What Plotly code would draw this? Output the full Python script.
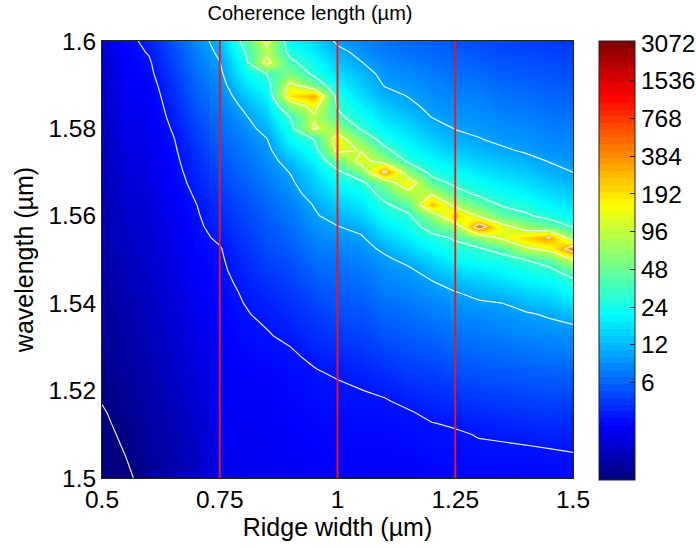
import numpy as np
import plotly.graph_objects as go

ridge_width = [0.5, 0.55, 0.6, 0.65, 0.7, 0.75, 0.8, 0.85, 0.9, 0.95, 1.0, 1.05, 1.1, 1.15, 1.2, 1.25, 1.3, 1.35, 1.4, 1.45, 1.5]
wavelength_top_down = [round(1.6 - 0.0025 * i, 4) for i in range(41)]

# log2 of coherence length; one list per ridge width, from 1.6 um down to 1.5 um
c050 = [.9,.9,.9,.85,.85,.8,.8,.75,.75,.7, .65,.65,.6,.6,.55,.5,.5,.5,.45,.45, .4,.4,.35,.35,.3,.28,.25,.22,.2,.15, .12,.1,.07,.02,-.05,-.1,-.15,-.2,-.28,-.34,-.4]
c055 = [1.5,1.46,1.42,1.38,1.34,1.3,1.26,1.22,1.18,1.14, 1.1,1.06,1.02,.98,.94,.9,.86,.82,.78,.74, .7,.66,.62,.58,.54,.5,.47,.44,.41,.38, .35,.31,.27,.23,.19,.15,.1,.05,0,-.05,-.1]
c060 = [1.8,1.7,1.6,1.55,1.47,1.4,1.36,1.32,1.28,1.24, 1.2,1.16,1.12,1.08,1.04,1.0,.97,.94,.91,.88, .85,.82,.79,.76,.73,.7,.67,.64,.61,.58, .55,.52,.49,.46,.43,.4,.37,.34,.3,.25,.2]
c065 = [2.4,2.3,2.2,2.1,2.0,1.93,1.85,1.78,1.7,1.62, 1.58,1.54,1.5,1.46,1.4,1.35,1.31,1.27,1.23,1.19, 1.15,1.11,1.07,1.03,.99,.95,.92,.89,.86,.83, .8,.76,.72,.68,.64,.6,.57,.54,.51,.48,.45]
c070 = [3.0,2.9,2.8,2.7,2.6,2.5,2.4,2.3,2.2,2.1, 2.0,1.93,1.86,1.79,1.72,1.65,1.61,1.57,1.53,1.49, 1.45,1.41,1.37,1.33,1.29,1.25,1.21,1.17,1.13,1.09, 1.05,1.01,.97,.93,.89,.85,.82,.79,.76,.73,.7]
c075 = [3.6,3.45,3.3,3.18,3.06,2.95,2.86,2.77,2.68,2.59, 2.5,2.4,2.3,2.2,2.1,2.0,1.92,1.84,1.74,1.63, 1.6,1.57,1.54,1.51,1.48,1.45,1.43,1.41,1.39,1.37, 1.35,1.34,1.33,1.32,1.31,1.3,1.28,1.26,1.24,1.22,1.2]
c080 = [5.2,4.85,4.5,4.25,3.95,3.65,3.4,3.2,3.05,2.92, 2.8,2.7,2.6,2.5,2.4,2.3,2.22,2.14,2.06,1.98, 1.9,1.84,1.76,1.7,1.66,1.62,1.58,1.55,1.52,1.48, 1.45,1.43,1.41,1.39,1.37,1.35,1.34,1.33,1.32,1.31,1.3]
c085 = [6.9,6.4,7.0,5.0,4.6,4.3,4.0,3.8,3.55,3.3, 3.15,3.04,2.93,2.82,2.71,2.6,2.52,2.44,2.36,2.28, 2.2,2.1,2.0,1.9,1.82,1.75,1.68,1.63,1.58,1.54, 1.5,1.47,1.44,1.41,1.38,1.35,1.34,1.33,1.32,1.31,1.3]
c090 = [4.3,4.7,5.2,5.8,6.9,7.5,5.9,5.0,4.7,4.4, 4.0,3.6,3.35,3.2,3.05,2.9,2.79,2.68,2.57,2.46, 2.35,2.26,2.17,2.08,1.99,1.9,1.82,1.74,1.66,1.6, 1.55,1.53,1.51,1.49,1.47,1.45,1.43,1.41,1.39,1.37,1.35]
c095 = [3.9,4.2,4.5,4.8,5.6,8.2,7.0,6.5,6.8,5.0, 4.6,4.3,4.0,3.8,3.6,3.35,3.25,3.11,2.97,2.83, 2.7,2.58,2.46,2.34,2.22,2.1,2.02,1.94,1.86,1.72, 1.65,1.62,1.59,1.56,1.53,1.5,1.48,1.46,1.44,1.42,1.4]
c100 = [3.2,3.5,3.75,4.0,4.3,4.6,4.9,5.2,6.0,7.2, 6.9,5.6,4.8,4.4,4.1,3.8,3.55,3.3,3.15,2.97, 2.8,2.7,2.6,2.5,2.4,2.3,2.19,2.08,1.97,1.86, 1.75,1.66,1.64,1.62,1.58,1.55,1.53,1.51,1.49,1.47,1.45]
c105 = [2.95,3.15,3.35,3.6,3.8,4.0,4.3,4.55,4.9,5.7, 6.6,7.0,5.8,4.75,4.4,4.1,3.8,3.5,3.25,3.1, 2.95,2.84,2.73,2.62,2.51,2.4,2.29,2.18,2.07,1.96, 1.85,1.75,1.65,1.62,1.58,1.55,1.53,1.51,1.49,1.47,1.45]
c110 = [2.75,2.88,3.02,3.15,3.28,3.5,3.75,4.0,4.25,4.6, 5.2,6.1,8.6,5.9,5.3,4.85,4.5,4.15,3.8,3.45, 3.2,3.08,2.96,2.84,2.72,2.6,2.48,2.36,2.24,2.12, 2.0,1.87,1.74,1.62,1.6,1.55,1.53,1.51,1.49,1.47,1.45]
c115 = [2.6,2.74,2.88,3.02,3.16,3.3,3.45,3.7,3.95,4.2, 4.45,4.85,6.0,7.4,6.3,5.4,4.85,4.5,4.2,3.85, 3.5,3.2,3.08,2.96,2.84,2.7,2.59,2.48,2.37,2.26, 2.15,2.02,1.89,1.76,1.62,1.58,1.55,1.53,1.5,1.47,1.45]
c120 = [2.5,2.62,2.74,2.86,2.98,3.1,3.2,3.32,3.55,3.8, 4.05,4.35,4.7,5.4,6.6,8.0,6.0,5.4,4.7,4.3, 3.9,3.6,3.3,3.15,3.0,2.85,2.72,2.59,2.46,2.33, 2.2,2.09,1.98,1.87,1.76,1.65,1.62,1.59,1.56,1.53,1.5]
c125 = [2.4,2.51,2.62,2.73,2.84,2.95,3.06,3.17,3.3,3.5, 3.75,4.05,4.4,4.8,5.3,6.3,7.9,5.9,5.1,4.7, 4.35,4.0,3.65,3.3,3.15,3.0,2.87,2.74,2.61,2.48, 2.35,2.22,2.09,1.96,1.83,1.7,1.62,1.59,1.56,1.53,1.5]
c130 = [2.3,2.42,2.54,2.66,2.78,2.9,3.0,3.1,3.2,3.35, 3.55,3.8,4.1,4.45,4.85,5.5,6.5,9.0,5.9,4.9, 4.55,4.15,3.8,3.5,3.25,3.05,2.93,2.81,2.69,2.57, 2.45,2.32,2.19,2.06,1.93,1.8,1.68,1.63,1.58,1.54,1.5]
c135 = [2.2,2.31,2.42,2.53,2.64,2.75,2.86,2.97,3.08,3.2, 3.4,3.65,3.9,4.2,4.5,4.9,5.5,7.0,6.9,5.3, 4.7,4.35,4.0,3.65,3.32,3.15,3.02,2.89,2.76,2.63, 2.5,2.37,2.24,2.11,1.98,1.85,1.75,1.62,1.58,1.54,1.5]
c140 = [2.15,2.26,2.37,2.48,2.59,2.7,2.81,2.92,3.03,3.14, 3.25,3.5,3.75,4.0,4.3,4.7,5.1,6.1,7.7,6.5, 5.0,4.6,4.25,3.9,3.6,3.25,3.11,2.97,2.83,2.69, 2.55,2.42,2.29,2.16,2.03,1.9,1.8,1.66,1.61,1.55,1.5]
c145 = [2.1,2.2,2.3,2.4,2.5,2.6,2.7,2.8,2.9,3.0, 3.1,3.3,3.5,3.75,4.0,4.3,4.7,5.6,8.4,7.0, 5.4,4.8,4.4,4.05,3.7,3.4,3.2,3.05,2.9,2.75, 2.6,2.47,2.34,2.21,2.08,1.95,1.82,1.68,1.62,1.56,1.5]
c150 = [2.05,2.15,2.25,2.35,2.45,2.55,2.65,2.75,2.85,2.95, 3.05,3.2,3.32,3.55,3.8,4.05,4.4,4.95,5.9,9.0, 6.7,5.5,4.8,4.45,4.1,3.7,3.3,3.1,2.95,2.75, 2.6,2.45,2.3,2.15,2.0,1.9,1.8,1.72,1.63,1.6,1.55]

columns = [c050, c055, c060, c065, c070, c075, c080, c085, c090, c095, c100, c105, c110, c115, c120, c125, c130, c135, c140, c145, c150]

colorbar_labels = ["6", "12", "24", "48", "96", "192", "384", "768", "1536", "3072"]
marked_widths = [0.75, 1.0, 1.25]

z_top_down = np.array(columns).T
z = z_top_down[::-1]
wavelength = wavelength_top_down[::-1]

Z_MIN, Z_MAX = 0.0, 11.64
LEVEL_STEP = 1.661


def jet_rgb(f):
    r = min(4 * f - 1.5, -4 * f + 4.5)
    g = min(4 * f - 0.5, -4 * f + 3.5)
    b = min(4 * f + 0.5, -4 * f + 2.5)
    return tuple(int(round(255 * max(0, min(1, v)))) for v in (r, g, b))


smooth_scale = [[i / 64, "rgb(%d,%d,%d)" % jet_rgb(i / 64)] for i in range(65)]
N = 64
stepped_scale = []
for i in range(N):
    rgb = "rgb(%d,%d,%d)" % jet_rgb((i + 0.5) / N)
    stepped_scale.append([i / N, rgb])
    stepped_scale.append([(i + 1) / N, rgb])

tickvals = [float(np.log2(int(t))) for t in colorbar_labels]
FONT = "Liberation Sans"

fig = go.Figure()
fig.add_trace(go.Heatmap(
    x=ridge_width, y=wavelength, z=z, zmin=Z_MIN, zmax=Z_MAX, zsmooth="best",
    colorscale=smooth_scale, hoverinfo="skip", showscale=False,
))
fig.add_trace(go.Contour(
    x=ridge_width, y=wavelength, z=z, showscale=False, hoverinfo="skip",
    contours=dict(coloring="none", start=0, end=11, size=LEVEL_STEP),
    line=dict(color="rgba(255,255,255,0.9)", width=1.2, smoothing=0),
))
for w in marked_widths:
    fig.add_trace(go.Scatter(x=[w, w], y=[1.5, 1.6], mode="lines", hoverinfo="skip",
                             line=dict(color="#f41414", width=1.8), showlegend=False))
fig.add_trace(go.Scatter(
    x=[None], y=[None], mode="markers", hoverinfo="skip", showlegend=False,
    marker=dict(color=[Z_MIN], cmin=Z_MIN, cmax=Z_MAX, colorscale=stepped_scale, showscale=True,
                colorbar=dict(
                    x=(599 - 102) / 471, xanchor="left", y=-2 / 437, yanchor="bottom",
                    len=439, lenmode="pixels", thickness=36, thicknessmode="pixels",
                    outlinecolor="#222", outlinewidth=1, tickvals=tickvals, ticktext=colorbar_labels,
                    ticks="inside", ticklen=5, tickcolor="#222",
                    tickfont=dict(family=FONT, size=24.5, color="black"), xpad=0, ypad=0,
                )),
))

tick_font = dict(family=FONT, size=24.5, color="black")
label_font = dict(family=FONT, size=25, color="black")
fig.update_layout(
    width=696, height=548, margin=dict(l=102, r=123, t=41, b=70, pad=0, autoexpand=False),
    paper_bgcolor="white", plot_bgcolor="white", showlegend=False,
    title=dict(text="Coherence length (µm)", x=310 / 696, xanchor="center", y=1 - 13 / 548, yanchor="middle",
               font=dict(family=FONT, size=20, color="black")),
    xaxis=dict(range=[0.5, 1.5], tickvals=[0.5, 0.75, 1, 1.25, 1.5], ticktext=["0.5", "0.75", "1", "1.25", "1.5"],
               tickfont=tick_font, ticks="", showgrid=False, zeroline=False, mirror=True, showline=True,
               linecolor="#222", linewidth=1,
               title=dict(text="Ridge width (µm)", font=label_font, standoff=0)),
    yaxis=dict(range=[1.5, 1.6], tickvals=[1.5, 1.52, 1.54, 1.56, 1.58, 1.6],
               ticktext=["1.5", "1.52", "1.54", "1.56", "1.58", "1.6"],
               tickfont=tick_font, ticks="", showgrid=False, zeroline=False, mirror=True, showline=True,
               linecolor="#222", linewidth=1,
               title=dict(text="wavelength (µm)", font=label_font, standoff=7)),
)
fig.write_html("out.html", config={"displayModeBar": False}, post_script="document.body.style.margin='0';")
